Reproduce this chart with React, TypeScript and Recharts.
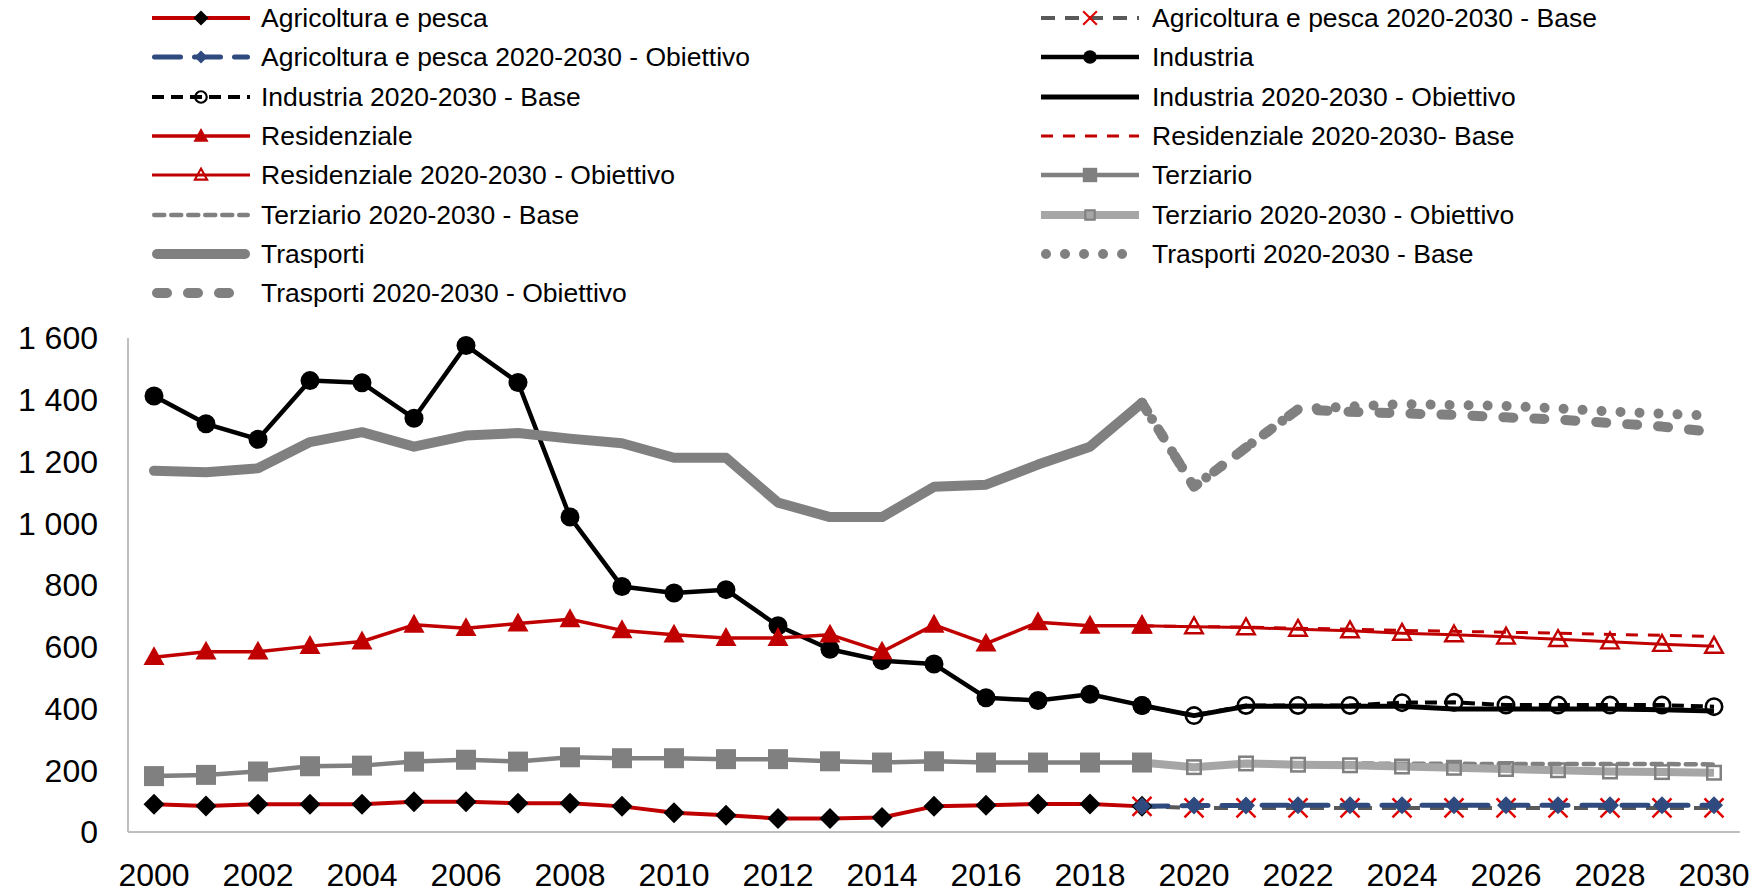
import React from 'react';
import { LineChart, Line, XAxis, YAxis, Legend } from 'recharts';

const years = [2000, 2001, 2002, 2003, 2004, 2005, 2006, 2007, 2008, 2009, 2010, 2011, 2012, 2013, 2014, 2015, 2016, 2017, 2018, 2019, 2020, 2021, 2022, 2023, 2024, 2025, 2026, 2027, 2028, 2029, 2030];
const xTicks = [2000, 2002, 2004, 2006, 2008, 2010, 2012, 2014, 2016, 2018, 2020, 2022, 2024, 2026, 2028, 2030];
const yTicks = [0, 200, 400, 600, 800, 1000, 1200, 1400, 1600];

// Historical series 2000-2019
const agriHist = [90, 84, 90, 90, 90, 98, 98, 93, 93, 83, 62, 54, 44, 44, 47, 83, 87, 91, 91, 83];
const indHist = [1412, 1322, 1272, 1462, 1455, 1340, 1576, 1456, 1020, 795, 774, 785, 668, 592, 555, 544, 435, 426, 446, 410];
const resHist = [566, 584, 584, 602, 617, 671, 660, 675, 689, 653, 639, 628, 628, 639, 584, 671, 610, 679, 668, 668];
const terHist = [181, 185, 196, 213, 215, 228, 234, 228, 242, 239, 239, 236, 236, 229, 225, 229, 225, 225, 225, 225];
const traHist = [1170, 1165, 1178, 1263, 1295, 1248, 1284, 1292, 1274, 1259, 1212, 1212, 1067, 1020, 1020, 1118, 1125, 1190, 1248, 1390];

// Scenario series 2019-2030
const agriBase = [83, 78, 78, 78, 78, 78, 78, 78, 78, 78, 78, 78];
const agriObj = [83, 86, 86, 87, 87, 87, 87, 87, 87, 87, 87, 87];
const indBase = [410, 377, 410, 410, 410, 419, 420, 411, 411, 411, 411, 406];
const indObj = [410, 377, 407, 407, 407, 407, 398, 398, 398, 398, 396, 392];
const resBase = [668, 665, 664, 660, 657, 653, 650, 647, 644, 640, 637, 633];
const resObj = [668, 665, 662, 657, 652, 644, 639, 632, 624, 616, 608, 602];
const terBase = [225, 212, 222, 222, 222, 221, 221, 220, 220, 220, 220, 219];
const terObj = [225, 210, 222, 218, 216, 212, 208, 204, 200, 196, 194, 192];
const traBase = [1390, 1118, 1245, 1369, 1378, 1386, 1383, 1380, 1372, 1362, 1355, 1348];
const traObj = [1390, 1118, 1245, 1369, 1361, 1356, 1351, 1343, 1336, 1325, 1313, 1295];

const HIST_END = 19; // index of 2019

const data = years.map((year, i) => {
  const row: Record<string, number | null> = { year };
  const h = i <= HIST_END;
  row.agri = h ? agriHist[i] : null;
  row.ind = h ? indHist[i] : null;
  row.res = h ? resHist[i] : null;
  row.ter = h ? terHist[i] : null;
  row.tra = h ? traHist[i] : null;
  const j = i - HIST_END;
  const p = j >= 0;
  row.agriBase = p ? agriBase[j] : null;
  row.agriObj = p ? agriObj[j] : null;
  row.indBase = p ? indBase[j] : null;
  row.indObj = p ? indObj[j] : null;
  row.resBase = p ? resBase[j] : null;
  row.resObj = p ? resObj[j] : null;
  row.terBase = p ? terBase[j] : null;
  row.terObj = p ? terObj[j] : null;
  row.traBase = p ? traBase[j] : null;
  row.traObj = p ? traObj[j] : null;
  return row;
});

const RED = '#C00000';
const GRAY = '#808080';
const LGRAY = '#A6A6A6';
const BLUE = '#2F4A7E';
const DGRAY = '#595959';
const FONT = "Arial, 'Liberation Sans', sans-serif";

type MarkerKind = 'diamond' | 'circle' | 'triangle' | 'square' | 'x';
type MarkerSpec = { kind: MarkerKind; size: number; fill: string; stroke: string; sw: number };
type SeriesSpec = {
  key: string;
  name: string;
  color: string;
  width: number;
  dash?: string;
  cap?: 'round' | 'butt';
  marker?: MarkerSpec;
};

const series: SeriesSpec[] = [
  { key: 'agri', name: 'Agricoltura e pesca', color: RED, width: 4, marker: { kind: 'diamond', size: 21, fill: '#000', stroke: '#000', sw: 0 } },
  { key: 'agriBase', name: 'Agricoltura e pesca 2020-2030 - Base', color: DGRAY, width: 4, dash: '14 10', marker: { kind: 'x', size: 19, fill: 'none', stroke: '#E00000', sw: 2.4 } },
  { key: 'agriObj', name: 'Agricoltura e pesca 2020-2030 - Obiettivo', color: BLUE, width: 5, dash: '26 14', cap: 'round', marker: { kind: 'diamond', size: 18, fill: BLUE, stroke: BLUE, sw: 0 } },
  { key: 'ind', name: 'Industria', color: '#000', width: 4.5, marker: { kind: 'circle', size: 19, fill: '#000', stroke: '#000', sw: 0 } },
  { key: 'indBase', name: 'Industria 2020-2030 - Base', color: '#000', width: 4, dash: '12 7', marker: { kind: 'circle', size: 19, fill: 'none', stroke: '#000', sw: 2.6 } },
  { key: 'indObj', name: 'Industria 2020-2030 - Obiettivo', color: '#000', width: 5 },
  { key: 'res', name: 'Residenziale', color: RED, width: 3.5, marker: { kind: 'triangle', size: 21, fill: RED, stroke: RED, sw: 0 } },
  { key: 'resBase', name: 'Residenziale 2020-2030- Base', color: RED, width: 3, dash: '12 10' },
  { key: 'resObj', name: 'Residenziale 2020-2030 - Obiettivo', color: RED, width: 3, marker: { kind: 'triangle', size: 20, fill: 'none', stroke: RED, sw: 2.4 } },
  { key: 'ter', name: 'Terziario', color: GRAY, width: 4.5, marker: { kind: 'square', size: 20, fill: GRAY, stroke: GRAY, sw: 0 } },
  { key: 'terBase', name: 'Terziario 2020-2030 - Base', color: GRAY, width: 4.5, dash: '10 7', cap: 'round' },
  { key: 'terObj', name: 'Terziario 2020-2030 - Obiettivo', color: LGRAY, width: 8, marker: { kind: 'square', size: 16, fill: 'none', stroke: GRAY, sw: 2.5 } },
  { key: 'tra', name: 'Trasporti', color: GRAY, width: 10, cap: 'round' },
  { key: 'traBase', name: 'Trasporti 2020-2030 - Base', color: GRAY, width: 10, dash: '0.01 19', cap: 'round' },
  { key: 'traObj', name: 'Trasporti 2020-2030 - Obiettivo', color: GRAY, width: 10, dash: '10 21', cap: 'round' },
];

function drawMarker(m: MarkerSpec, x: number, y: number, scale = 1) {
  const s = m.size * scale;
  const h = s / 2;
  const sw = m.sw * (scale < 1 ? 0.85 : 1);
  switch (m.kind) {
    case 'diamond':
      return <path d={`M${x},${y - h}L${x + h},${y}L${x},${y + h}L${x - h},${y}Z`} fill={m.fill} stroke={m.stroke} strokeWidth={sw} />;
    case 'circle':
      return <circle cx={x} cy={y} r={h - sw / 2} fill={m.fill} stroke={m.stroke} strokeWidth={sw} />;
    case 'triangle': {
      const t = h - sw / 2;
      return <path d={`M${x},${y - t * 1.05}L${x + t},${y + t * 0.75}L${x - t},${y + t * 0.75}Z`} fill={m.fill} stroke={m.stroke} strokeWidth={sw} />;
    }
    case 'square':
      return <rect x={x - h + sw / 2} y={y - h + sw / 2} width={s - sw} height={s - sw} fill={m.fill} stroke={m.stroke} strokeWidth={sw} />;
    case 'x':
      return (
        <g stroke={m.stroke} strokeWidth={sw}>
          <line x1={x - h} y1={y - h} x2={x + h} y2={y + h} />
          <line x1={x - h} y1={y + h} x2={x + h} y2={y - h} />
        </g>
      );
  }
  return null;
}

const makeDot = (s: SeriesSpec) => (p: any) => {
  const k = `${s.key}-${p.index}`;
  if (!s.marker || p.value == null || p.cx == null || p.cy == null) return <g key={k} />;
  return <g key={k}>{drawMarker(s.marker, p.cx, p.cy)}</g>;
};

const LEG_ROWS = [18, 57.3, 96.6, 136, 175.3, 214.6, 254, 293.3];
const LEG_COLS = [{ sample: 152, text: 261 }, { sample: 1041, text: 1152 }];

function LegendBox() {
  return (
    <div style={{ position: 'relative', width: 1762, height: 315, fontFamily: FONT }}>
      {series.map((s, i) => {
        const col = LEG_COLS[i % 2];
        const rowY = LEG_ROWS[Math.floor(i / 2)];
        return (
          <React.Fragment key={s.key}>
            <svg style={{ position: 'absolute', left: col.sample - 2, top: rowY - 15 }} width={102} height={30}>
              <line
                x1={s.cap === 'round' ? 2 + s.width / 2 : 2}
                y1={15}
                x2={s.cap === 'round' ? 100 - s.width / 2 : 100}
                y2={15}
                stroke={s.color}
                strokeWidth={s.width}
                strokeDasharray={s.dash}
                strokeLinecap={s.cap === 'round' ? 'round' : 'butt'}
              />
              {s.marker ? drawMarker(s.marker, 51, 15, 0.72) : null}
            </svg>
            <div
              style={{
                position: 'absolute',
                left: col.text,
                top: rowY - 16,
                height: 32,
                lineHeight: '32px',
                fontSize: 26.5,
                color: '#000',
                whiteSpace: 'nowrap',
              }}
            >
              {s.name}
            </div>
          </React.Fragment>
        );
      })}
    </div>
  );
}

const fmtY = (v: number) => (v >= 1000 ? `${Math.floor(v / 1000)} ${String(v % 1000).padStart(3, '0')}` : String(v));

export default function App() {
  return (
    <div style={{ position: 'absolute', left: 0, top: 0, width: 1762, height: 893, background: '#fff' }}>
      <LineChart width={1762} height={893} data={data} margin={{ top: 338, right: 22, bottom: 0, left: 0 }}>
        <XAxis
          dataKey="year"
          type="number"
          domain={[1999.5, 2030.5]}
          ticks={xTicks}
          interval={0}
          allowDataOverflow
          height={61}
          tickLine={false}
          tickSize={0}
          tickMargin={31}
          axisLine={{ stroke: '#BFBFBF', strokeWidth: 2 }}
          tick={{ fontSize: 32, fill: '#000', fontFamily: FONT }}
        />
        <YAxis
          type="number"
          domain={[0, 1600]}
          ticks={yTicks}
          interval={0}
          width={128}
          tickLine={false}
          tickSize={0}
          tickMargin={30}
          tickFormatter={fmtY}
          axisLine={{ stroke: '#BFBFBF', strokeWidth: 2 }}
          tick={{ fontSize: 32, fill: '#000', fontFamily: FONT }}
        />
        <Legend
          layout="vertical"
          align="center"
          verticalAlign="middle"
          wrapperStyle={{ top: 0, left: 0, width: 1762, height: 315 }}
          content={() => <LegendBox />}
        />
        {series.map((s) => (
          <Line
            key={s.key}
            dataKey={s.key}
            name={s.name}
            type="linear"
            stroke={s.color}
            strokeWidth={s.width}
            strokeDasharray={s.dash}
            strokeLinecap={s.cap === 'round' ? 'round' : 'butt'}
            strokeLinejoin="round"
            dot={makeDot(s)}
            activeDot={false}
            connectNulls={false}
            isAnimationActive={false}
          />
        ))}
      </LineChart>
    </div>
  );
}
